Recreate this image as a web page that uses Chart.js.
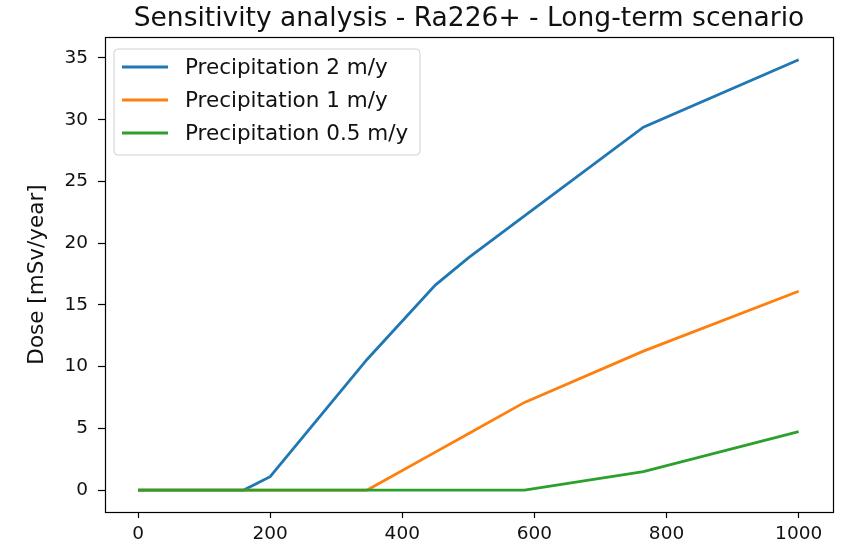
<!DOCTYPE html>
<html>
<head>
<meta charset="utf-8">
<script src="https://cdn.jsdelivr.net/npm/chart.js@4.4.1/dist/chart.umd.min.js"></script>
<style>
html,body{margin:0;padding:0;background:#fff;}
#wrap{width:848px;height:551px;}
</style>
</head>
<body>
<div id="wrap"><canvas id="c" width="848" height="551"></canvas></div>
<script>
const times = [0, 160, 200, 347, 450, 500, 585, 765, 1000];
const dose2m = [0, 0, 1.08, 10.6, 16.6, 18.8, 22.2, 29.4, 34.85];
const dose1m = [0, 0, 0, 0, 3.07, 4.56, 7.1, 11.25, 16.1];
const dose05m = [0, 0, 0, 0, 0, 0, 0, 1.5, 4.73];
const seriesLabels = ['Precipitation 2 m/y', 'Precipitation 1 m/y', 'Precipitation 0.5 m/y'];
const xTicks = [0, 200, 400, 600, 800, 1000];
const yTicks = [0, 5, 10, 15, 20, 25, 30, 35];

const colors = ['#1f77b4', '#ff7f0e', '#2ca02c'];
const FONT = 'DejaVu Sans';
const TXT = '#111';

function pts(ys){ return times.map((t,i)=>({x:t, y:ys[i]})); }

const frame = {
  id:'frame',
  afterDraw(chart){
    const {ctx, chartArea:a} = chart;
    ctx.save();
    ctx.strokeStyle='#000'; ctx.lineWidth=1.2;
    ctx.strokeRect(a.left+0.5, a.top+0.5, a.right-a.left, a.bottom-a.top);
    ctx.restore();
  }
};

const legendBox = {
  id:'legendBox',
  afterDraw(chart){
    const {ctx, chartArea:a} = chart;
    const x0 = a.left + 9, y0 = a.top + 12, w = 306, h = 106;
    ctx.save();
    ctx.fillStyle='rgba(255,255,255,0.8)';
    ctx.strokeStyle='#d0d0d0'; ctx.lineWidth=1;
    const r=4;
    ctx.beginPath();
    ctx.moveTo(x0+r,y0); ctx.lineTo(x0+w-r,y0); ctx.quadraticCurveTo(x0+w,y0,x0+w,y0+r);
    ctx.lineTo(x0+w,y0+h-r); ctx.quadraticCurveTo(x0+w,y0+h,x0+w-r,y0+h);
    ctx.lineTo(x0+r,y0+h); ctx.quadraticCurveTo(x0,y0+h,x0,y0+h-r);
    ctx.lineTo(x0,y0+r); ctx.quadraticCurveTo(x0,y0,x0+r,y0);
    ctx.closePath(); ctx.fill(); ctx.stroke();
    ctx.font = '21.5px "'+FONT+'"';
    ctx.textBaseline='middle';
    chart.data.datasets.forEach((ds,i)=>{
      const yy = y0 + 18 + i*33;
      ctx.strokeStyle = ds.borderColor; ctx.lineWidth = 2.8;
      ctx.beginPath(); ctx.moveTo(x0+8, yy); ctx.lineTo(x0+54, yy); ctx.stroke();
      ctx.fillStyle=TXT;
      ctx.fillText(ds.label, x0+71, yy+1);
    });
    ctx.restore();
  }
};

new Chart(document.getElementById('c'), {
  type:'line',
  data:{
    datasets:[
      {label:seriesLabels[0], data:pts(dose2m), borderColor:colors[0], backgroundColor:colors[0], order:2},
      {label:seriesLabels[1], data:pts(dose1m), borderColor:colors[1], backgroundColor:colors[1], order:1},
      {label:seriesLabels[2], data:pts(dose05m), borderColor:colors[2], backgroundColor:colors[2], order:0}
    ]
  },
  options:{
    responsive:false,
    animation:false,
    layout:{padding:{left:16, right:15, top:0, bottom:0}},
    elements:{point:{radius:0}, line:{borderWidth:2.8, tension:0}},
    plugins:{
      legend:{display:false},
      tooltip:{enabled:false},
      title:{display:true, fullSize:false, text:'Sensitivity analysis - Ra226+ - Long-term scenario',
        color:TXT, font:{family:FONT, size:26.5, weight:'normal'}, padding:{top:3, bottom:2.2}}
    },
    scales:{
      x:{type:'linear', min:-50, max:1052,
        afterBuildTicks(s){ s.ticks = xTicks.map(v=>({value:v})); },
        afterFit(s){ s.height = 39; },
        grid:{display:true, drawOnChartArea:false, drawTicks:true, tickLength:6, color:'#000', tickWidth:1.2},
        border:{display:false},
        ticks:{color:TXT, font:{family:FONT, size:18.5}, padding:5, maxRotation:0, autoSkip:false,
          callback:(v)=>String(v)}
      },
      y:{type:'linear', min:-1.78, max:36.7,
        afterBuildTicks(s){ s.ticks = yTicks.map(v=>({value:v})); },
        afterFit(s){ s.width = 105 - 16; },
        grid:{display:true, drawOnChartArea:false, drawTicks:true, tickLength:7, color:'#000', tickWidth:1.2},
        border:{display:false},
        ticks:{color:TXT, font:{family:FONT, size:18.5}, padding:10, autoSkip:false,
          callback:(v)=>String(v)},
        title:{display:true, text:'Dose [mSv/year]', color:TXT, font:{family:FONT, size:21.5}, padding:{top:9,bottom:0}}
      }
    }
  },
  plugins:[frame, legendBox]
});
</script>
</body>
</html>
